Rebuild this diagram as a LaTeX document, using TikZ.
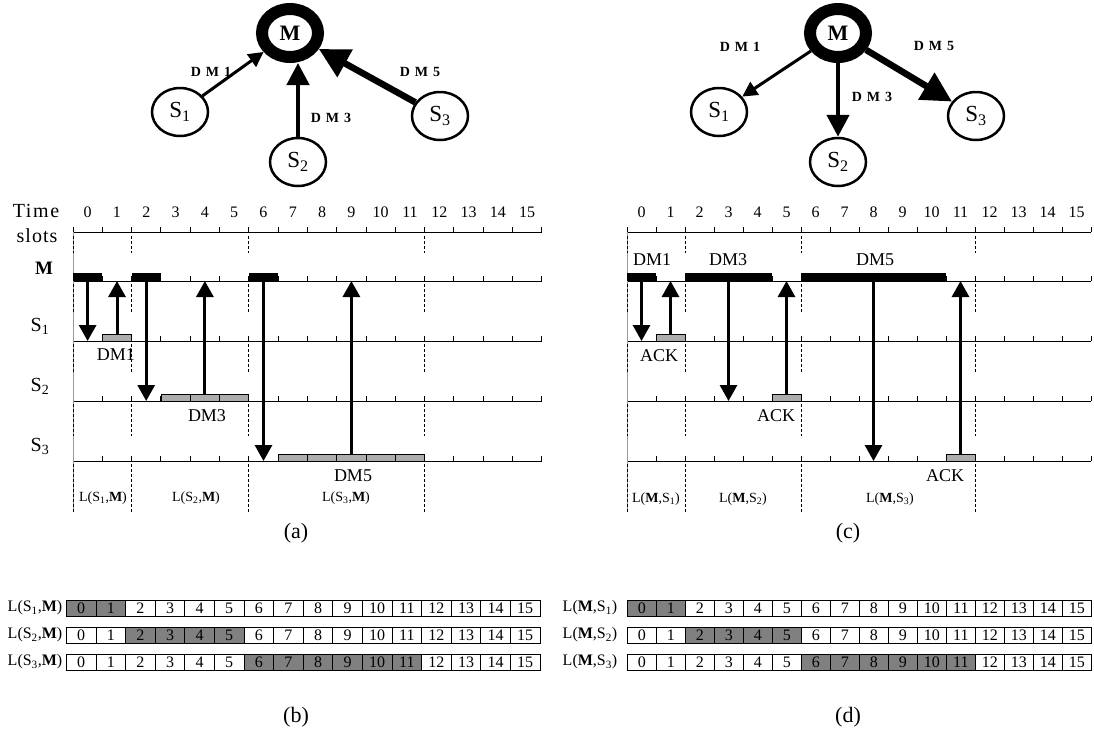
\documentclass[tikz,border=0pt]{standalone}
\usepackage{amsmath}
\usepackage{fontspec}
\setmainfont{Liberation Serif}
\usetikzlibrary{arrows.meta,shapes.geometric}
\newcommand\lsub[1]{$_{\text{#1}}$}
\newcommand\fs[1]{\fontsize{#1}{#1}\selectfont}
\newcommand\dmlab[1]{D\hspace{5pt}M\hspace{5pt}#1}
\begin{document}
\begin{tikzpicture}[x=1pt,y=-1pt,
  mnode/.style={ellipse,draw,line width=12pt,minimum width=56pt,minimum height=48pt,inner sep=0pt,font=\fs{22}\bfseries},
  snode/.style={ellipse,draw,line width=2.5pt,minimum width=56pt,minimum height=48pt,inner sep=0pt,font=\fs{23}},
  ea/.style={line width=3pt,-{Triangle[length=15pt,width=15pt]}},
  eb/.style={line width=4.5pt,-{Triangle[length=22pt,width=22pt]}},
  ec/.style={line width=6.5pt,-{Triangle[length=30pt,width=30pt]}},
  elab/.style={font=\fs{14}\bfseries},
  axis/.style={line width=0.9pt},
  bnd/.style={line width=1pt,dash pattern=on 3pt off 2pt},
  mbar/.style={fill=black},
  gbar/.style={fill=black!32,draw=black,line width=0.8pt},
  tarr/.style={line width=3pt,-{Triangle[length=16pt,width=17pt]}},
  num/.style={font=\fs{16}},
  rowlab/.style={font=\fs{20}},
  tlab/.style={font=\fs{18}},
  glab/.style={font=\fs{14}},
  captxt/.style={font=\fs{22}},
  cell/.style={draw,line width=0.8pt,minimum height=16pt,inner sep=0pt,font=\fs{16},anchor=west},
  dcell/.style={cell,fill=black!50},
  tblab/.style={font=\fs{16}}
]
\useasboundingbox (0,0) rectangle (1094,740);

% ---------- top-left graph ----------
\node[mnode] (ML) at (290,33) {M};
\node[snode] (S1L) at (180,112) {S\lsub{1}};
\node[snode] (S2L) at (298,162) {S\lsub{2}};
\node[snode] (S3L) at (440,116) {S\lsub{3}};
\draw[ea] (S1L) -- (ML);
\draw[eb] (S2L.north) -- (S2L.north |- ML.south);
\draw[ec] (S3L) -- (ML);
\node[elab] (l1L) at (211,72) {\dmlab{1}};
\node[elab] (l3L) at (331,118) {\dmlab{3}};
\node[elab] (l5L) at (420,72) {\dmlab{5}};

% ---------- top-right graph ----------
\node[mnode] (MR) at (838,33) {M};
\node[snode] (S1R) at (719,112) {S\lsub{1}};
\node[snode] (S2R) at (838,162) {S\lsub{2}};
\node[snode] (S3R) at (976,116) {S\lsub{3}};
\draw[ea] (MR) -- (S1R);
\draw[eb] (MR) -- (S2R);
\draw[ec] (MR) -- (S3R);
\node[elab] (l1R) at (740,47) {\dmlab{1}};
\node[elab] (l3R) at (872,97) {\dmlab{3}};
\node[elab] (l5R) at (934,46) {\dmlab{5}};

% ---------- row labels ----------
\node[rowlab] (tm) at (36,211) {\addfontfeatures{LetterSpace=8}Time};
\node[rowlab] (sl) at (37,236) {\addfontfeatures{LetterSpace=5}slots};
\node[rowlab,font=\fs{19}\bfseries] (rM) at (44,268) {M};
\node[rowlab] (r1) at (40,326) {S\lsub{1}};
\node[rowlab] (r2) at (40,386) {S\lsub{2}};
\node[rowlab] (r3) at (40,446) {S\lsub{3}};

% ---------- timelines (a) and (c) ----------
\foreach \xo/\w/\tag in {73/29.3/a,627/29.0/c}{
  \foreach \k in {0,...,15}
    \node[num] (n\tag\k) at (\xo+\k*\w+\w/2,212) {\k};
  \foreach \yy in {232,281,341,401,461}{
    \draw[axis] (\xo,\yy) -- (\xo+16*\w,\yy);
    \foreach \k in {0,...,16}
      \draw[axis] (\xo+\k*\w,\yy) -- ++(0,-5);
  }
  \draw[line width=0.4pt,black!40] (\xo,232) -- (\xo,512);
}
% boundaries
\foreach \xx in {73,131.6,248.8,424.6,627,685,801,975}{
  \draw[bnd] (\xx,236) -- (\xx,253);
  \draw[bnd] (\xx,284) -- (\xx,312);
  \draw[bnd] (\xx,344) -- (\xx,373);
  \draw[bnd] (\xx,404) -- (\xx,436);
  \draw[bnd] (\xx,464) -- (\xx,512);
}

% (a) bars and arrows, slot width 29.3, origin 73
\fill[mbar] (73,273) rectangle (102.3,281);
\fill[mbar] (131.6,273) rectangle (160.9,281);
\fill[mbar] (248.8,273) rectangle (278.1,281);
\draw[gbar] (102.3,334) rectangle (131.6,341);
\foreach \k in {3,4,5} \draw[gbar] (73+\k*29.3,394) rectangle ++(29.3,7);
\foreach \k in {7,...,11} \draw[gbar] (73+\k*29.3,454) rectangle ++(29.3,7);
\draw[tarr] (87.6,281) -- (87.6,341);
\draw[tarr] (117,334) -- (117,281);
\draw[tarr] (146.2,281) -- (146.2,401);
\draw[tarr] (204.9,394) -- (204.9,281);
\draw[tarr] (263.5,281) -- (263.5,461);
\draw[tarr] (351.4,454) -- (351.4,281);
\node[tlab] (dm1a) at (116,355) {DM1};
\node[tlab] (dm3a) at (207,416) {DM3};
\node[tlab] (dm5a) at (353,476) {DM5};
\node[glab] (g1a) at (103,498) {L(S\lsub{1},\textbf{M})};
\node[glab] (g2a) at (196,498) {L(S\lsub{2},\textbf{M})};
\node[glab] (g3a) at (346,498) {L(S\lsub{3},\textbf{M})};
\node[captxt] (capa) at (296,533) {(a)};

% (c) bars and arrows, slot width 29, origin 627
\fill[mbar] (627,273) rectangle (656,281);
\fill[mbar] (685,273) rectangle (772,281);
\fill[mbar] (801,273) rectangle (946,281);
\draw[gbar] (656,334) rectangle (685,341);
\draw[gbar] (772,394) rectangle (801,401);
\draw[gbar] (946,454) rectangle (975,461);
\draw[tarr] (641.5,281) -- (641.5,341);
\draw[tarr] (670.5,334) -- (670.5,281);
\draw[tarr] (728.5,281) -- (728.5,401);
\draw[tarr] (786.5,394) -- (786.5,281);
\draw[tarr] (873.5,281) -- (873.5,461);
\draw[tarr] (960.5,454) -- (960.5,281);
\node[tlab] (dm1c) at (652,260) {DM1};
\node[tlab] (dm3c) at (728,260) {DM3};
\node[tlab] (dm5c) at (875,260) {DM5};
\node[tlab] (ack1) at (659,356) {ACK};
\node[tlab] (ack2) at (776,416) {ACK};
\node[tlab] (ack3) at (945,476) {ACK};
\node[glab] (g1c) at (656,499) {L(\textbf{M},S\lsub{1})};
\node[glab] (g2c) at (743,499) {L(\textbf{M},S\lsub{2})};
\node[glab] (g3c) at (890,499) {L(\textbf{M},S\lsub{3})};
\node[captxt] (capc) at (848,533) {(c)};

% ---------- tables (b) and (d) ----------
\foreach \ry/\lo/\hi/\r in {608/0/1/1,635/2/5/2,662/6/11/3}{
  \node[tblab] (tbl\r) at (35,\ry) {L(S\lsub{\r},\textbf{M})};
  \node[tblab] (tdl\r) at (590,\ry) {L(\textbf{M},S\lsub{\r})};
  \foreach \k in {0,...,15}{
    \pgfmathtruncatemacro\dk{(\k>=\lo)&&(\k<=\hi)}
    \ifnum\dk=1
      \node[dcell,minimum width=29.6pt] (b\r-\k) at (66+\k*29.6,\ry) {\k};
      \node[dcell,minimum width=29pt] (d\r-\k) at (627+\k*29,\ry) {\k};
    \else
      \node[cell,minimum width=29.6pt] (b\r-\k) at (66+\k*29.6,\ry) {\k};
      \node[cell,minimum width=29pt] (d\r-\k) at (627+\k*29,\ry) {\k};
    \fi
  }
}
\node[captxt] (capb) at (296,717) {(b)};
\node[captxt] (capd) at (848,717) {(d)};
\end{tikzpicture}
\end{document}
